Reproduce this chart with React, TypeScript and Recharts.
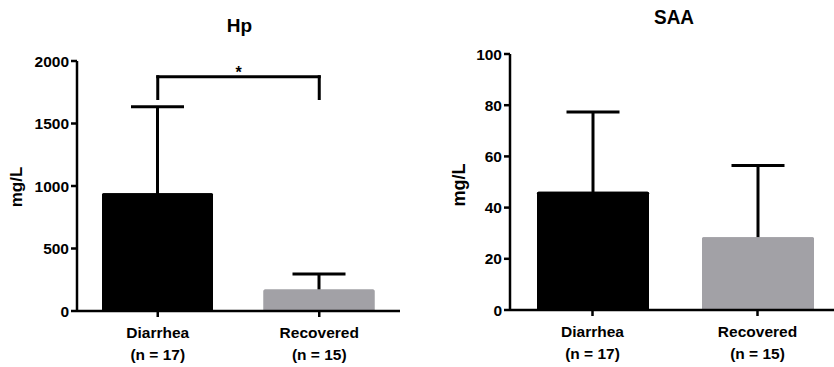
import React from 'react';
import { BarChart, Bar, XAxis, YAxis, ErrorBar, Cell, ReferenceLine } from 'recharts';

const categories = ['Diarrhea', 'Recovered'];
const nLabels = ['(n = 17)', '(n = 15)'];
const barColors = ['#000000', '#a2a1a6'];

const hpMean = [942, 172];
const hpSd = [692, 124];
const hpTicks = [0, 500, 1000, 1500, 2000];

const saaMean = [46.2, 28.4];
const saaSd = [31.1, 28.0];
const saaTicks = [0, 20, 40, 60, 80, 100];

const sigLow = 1700;
const sigHigh = 1874;

const FONT = '"Liberation Sans", Arial, Helvetica, sans-serif';

const hpData = categories.map((name, i) => ({ name, mean: hpMean[i], sd: hpSd[i] }));
const saaData = categories.map((name, i) => ({ name, mean: saaMean[i], sd: saaSd[i] }));

const XTick = (props: any) => {
  const { x, y, payload } = props;
  const idx = categories.indexOf(payload.value);
  return (
    <text x={x} y={y} textAnchor="middle" fill="#000" fontSize={15.5} fontWeight="bold" fontFamily={FONT}>
      <tspan x={x} dy={19}>{payload.value}</tspan>
      <tspan x={x} dy={22}>{nLabels[idx]}</tspan>
    </text>
  );
};

const axisStroke = { stroke: '#000', strokeWidth: 2.5 };
const yTickStyle = { fill: '#000', fontSize: 15.5, fontWeight: 'bold', fontFamily: FONT } as any;

function Panel(props: {
  data: any[];
  ticks: number[];
  domain: [number, number];
  width: number;
  yWidth: number;
  xHeight: number;
  margin: any;
  barSize: number;
  capHalf: number;
  children?: React.ReactNode;
}) {
  const { data, ticks, domain, width, yWidth, xHeight, margin, barSize, capHalf } = props;
  return (
    <BarChart width={width} height={367} data={data} margin={margin}>
      <XAxis xAxisId="err" dataKey="name" orientation="top" hide />
      <XAxis
        xAxisId="main"
        dataKey="name"
        interval={0}
        height={xHeight}
        tick={<XTick />}
        tickSize={6}
        tickLine={axisStroke}
        axisLine={axisStroke}
      />
      <YAxis
        domain={domain}
        ticks={ticks}
        width={yWidth}
        interval={0}
        tickSize={6}
        tickLine={axisStroke}
        axisLine={axisStroke}
        tick={yTickStyle}
        allowDataOverflow
      />
      <Bar xAxisId="err" dataKey="mean" barSize={barSize} isAnimationActive={false} radius={1.5}>
        {data.map((d, i) => (
          <Cell key={d.name} fill={barColors[i]} />
        ))}
        <ErrorBar dataKey="sd" direction="y" width={capHalf} stroke="#000" strokeWidth={3} {...({ zIndex: 250 } as any)} isAnimationActive={false} />
      </Bar>
      <Bar xAxisId="main" dataKey="mean" barSize={barSize} isAnimationActive={false} radius={1.5}>
        {data.map((d, i) => (
          <Cell key={d.name} fill={barColors[i]} />
        ))}
      </Bar>
      {props.children}
    </BarChart>
  );
}

export default function App() {
  const bracket = { stroke: '#000', strokeWidth: 3, strokeLinecap: 'square' as any };
  return (
    <div style={{ position: 'absolute', left: 0, top: 0, width: 834, height: 367, overflow: 'hidden', background: '#fff' }}>
      <div style={{ position: 'absolute', left: 0, top: 0 }}>
        <Panel
          data={hpData}
          ticks={hpTicks}
          domain={[0, 2000]}
          width={420}
          yWidth={77}
          xHeight={56}
          margin={{ top: 61, right: 20, bottom: 0, left: 0 }}
          barSize={111}
          capHalf={26.5}
        >
          <ReferenceLine
            xAxisId="main"
            segment={[{ x: categories[0], y: sigLow }, { x: categories[0], y: sigHigh }]}
            {...bracket}
          />
          <ReferenceLine
            xAxisId="main"
            segment={[{ x: categories[1], y: sigLow }, { x: categories[1], y: sigHigh }]}
            {...bracket}
          />
          <ReferenceLine
            xAxisId="main"
            segment={[{ x: categories[0], y: sigHigh }, { x: categories[1], y: sigHigh }]}
            {...bracket}
            label={{ value: '*', position: 'top', offset: -1, fill: '#000', fontSize: 16, fontWeight: 'bold', fontFamily: FONT }}
          />
        </Panel>
      </div>
      <div style={{ position: 'absolute', left: 420, top: 0 }}>
        <Panel
          data={saaData}
          ticks={saaTicks}
          domain={[0, 100]}
          width={420}
          yWidth={90}
          xHeight={57}
          margin={{ top: 54, right: 0, bottom: 0, left: 0 }}
          barSize={112}
          capHalf={26.5}
        />
      </div>
      <svg width={834} height={367} style={{ position: 'absolute', left: 0, top: 0, pointerEvents: 'none' }}>
        <g fontFamily={FONT} fontWeight="bold" fill="#000">
          <text x={239.5} y={31.7} textAnchor="middle" fontSize={19}>Hp</text>
          <text x={674} y={24} textAnchor="middle" fontSize={21} textLength={40} lengthAdjust="spacingAndGlyphs">SAA</text>
          <text x={0} y={0} textAnchor="middle" fontSize={17} transform="translate(22,187) rotate(-90)">mg/L</text>
          <text x={0} y={0} textAnchor="middle" fontSize={18} transform="translate(465,185) rotate(-90)">mg/L</text>
        </g>
      </svg>
    </div>
  );
}
